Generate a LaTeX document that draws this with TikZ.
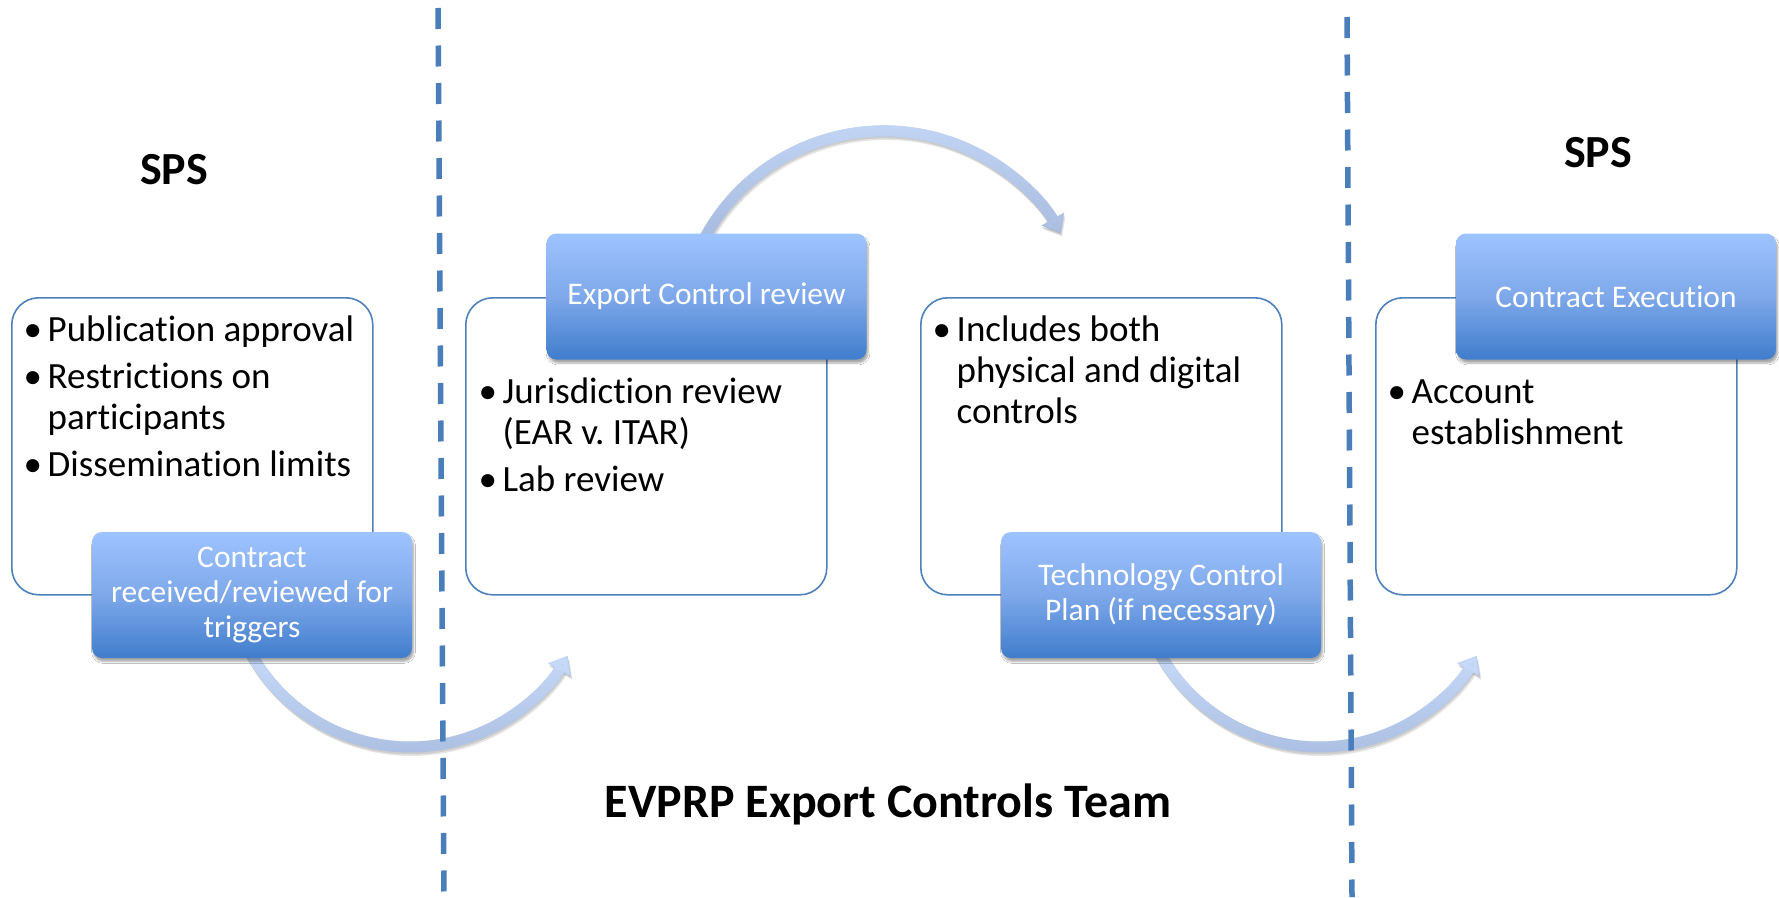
\documentclass[tikz,border=0pt]{standalone}
\usepackage{fontspec}
\setmainfont{Carlito}[Ligatures=CommonOff]
\usetikzlibrary{arrows.meta,fadings,shadows.blur}
\frenchspacing

\definecolor{rule}{RGB}{74,126,187}
\definecolor{frame}{RGB}{79,129,189}
\definecolor{boxtop}{RGB}{158,196,255}
\definecolor{boxmid}{RGB}{126,168,234}
\definecolor{boxbot}{RGB}{64,125,204}
\definecolor{arrlight}{RGB}{200,219,250}
\definecolor{arrdark}{RGB}{166,186,222}

% opaque at the top, clear at the bottom: lightens the upper part of a stroke
\tikzfading[name=topopaque, top color=transparent!0, bottom color=transparent!100]

\newcommand\itemdot{\makebox[21.5pt][l]{\hspace*{-2.5pt}•}}

\tikzset{
  panel/.style={draw=frame, line width=1.6pt, fill=white, rounded corners=27pt,
    minimum width=361pt, minimum height=297pt, anchor=north west, inner sep=0pt},
  stage/.style={rounded corners=10pt, minimum width=320pt, minimum height=126pt,
    top color=boxtop, bottom color=boxbot, middle color=boxmid,
    text=white, font=\fontsize{31.5}{35}\selectfont, align=center, inner sep=0pt,
    blur shadow={shadow xshift=1.5pt, shadow yshift=-3.5pt, shadow blur steps=6, shadow opacity=35}},
  bullets/.style={anchor=base west, inner sep=0pt, font=\fontsize{37}{41}\selectfont},
  heading/.style={font=\bfseries\fontsize{46}{50}\selectfont, inner sep=0pt},
  divider/.style={draw=rule, line width=5.5pt, dash pattern=on 21pt off 16.5pt},
  flowtip/.style={-{Triangle[length=16pt,width=25pt]}},
  flowbase/.style={flowtip, line width=11pt, draw=arrdark},
  flowtop/.style={flowtip, line width=11pt, draw=arrlight, path fading=topopaque},
  flowshadow/.style={flowtip, line width=11pt, draw=black, opacity=0.10},
}

\begin{document}
\begin{tikzpicture}[x=1pt,y=1pt]
\useasboundingbox (0,0) rectangle (1779,-897);
\fill[white] (0,0) rectangle (1779,-897);

% white panels
\node[panel] (w1) at (11,-297) {};
\node[panel] (w2) at (465,-297) {};
\node[panel] (w3) at (920,-297) {};
\node[panel] (w4) at (1375,-297) {};

% curved flow arrows
\coordinate (a1s) at (249.3,-650.4);
\coordinate (a2s) at (703.9,-239.2);
\coordinate (a3s) at (1158.3,-650.4);
\foreach \s/\a/\b/\r in {a1s/208/330/182, a2s/152/30/204, a3s/208/330/182}{
  \draw[flowshadow] ([shift={(1.5,-3.5)}]\s) arc[start angle=\a, end angle=\b, radius=\r pt];
  \draw[flowshadow] ([shift={(0.5,-2)}]\s) arc[start angle=\a, end angle=\b, radius=\r pt];
  \draw[flowbase] (\s) arc[start angle=\a, end angle=\b, radius=\r pt];
  \draw[flowtop] (\s) arc[start angle=\a, end angle=\b, radius=\r pt];
}

% dashed dividers
\coordinate (d1t) at (438,-8);
\coordinate (d1b) at (444,-897);
\coordinate (d2t) at (1347,-17);
\coordinate (d2b) at (1352,-897);
\draw[divider] (d1t) -- (d1b);
\draw[divider] (d2t) -- (d2b);

% process stages
\node[stage] (b1) at (252,-595) {Contract\\received/reviewed for\\triggers};
\node[stage] (b2) at (706.5,-296.5) {Export Control review};
\node[stage] (b3) at (1161,-595) {Technology Control\\Plan (if necessary)};
\node[stage] (b4) at (1616,-296.5) {Contract Execution};

% bullet lists
\node[bullets] (t1) at (26,-341) {\begin{tabular}[t]{@{}l@{}l@{}}
  \itemdot & Publication approval\\[6pt]
  \itemdot & Restrictions on\\
           & participants\\[6pt]
  \itemdot & Dissemination limits
\end{tabular}};
\node[bullets] (t2) at (481,-403) {\begin{tabular}[t]{@{}l@{}l@{}}
  \itemdot & Jurisdiction review\\
           & (EAR v. ITAR)\\[6pt]
  \itemdot & Lab review
\end{tabular}};
\node[bullets] (t3) at (935,-341) {\begin{tabular}[t]{@{}l@{}l@{}}
  \itemdot & Includes both\\
           & physical and digital\\
           & controls
\end{tabular}};
\node[bullets] (t4) at (1390,-403) {\begin{tabular}[t]{@{}l@{}l@{}}
  \itemdot & Account\\
           & establishment
\end{tabular}};

% headings
\node[heading] (h1) at (174,-170) {SPS};
\node[heading] (h2) at (1598,-153) {SPS};
\node[heading, anchor=base, font=\bfseries\fontsize{48}{52}\selectfont] (h3) at (888,-817) {EVPRP Export Controls Team};
\end{tikzpicture}
\end{document}
